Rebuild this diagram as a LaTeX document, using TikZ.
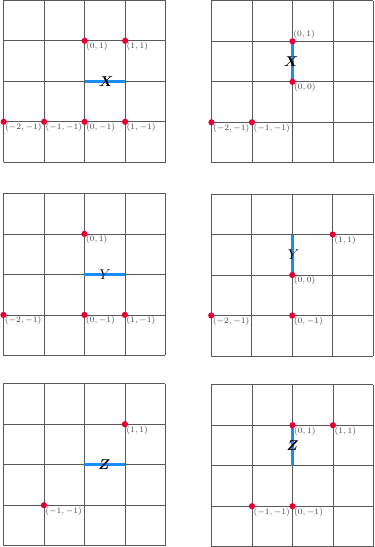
\documentclass[tikz,border=0pt]{standalone}
\usepackage{bm}
\definecolor{segblue}{RGB}{25,140,245}
\definecolor{dotred}{RGB}{228,0,55}
\begin{document}
\begin{tikzpicture}[
  gridline/.style={draw=black!65, line width=0.5pt},
  seg/.style={draw=segblue, line width=2.1pt},
  dot/.style={circle, fill=dotred, inner sep=0pt, minimum size=4.4pt},
  lab/.style={font=\scriptsize, text=black!75, inner sep=0.2pt, scale=0.84, transform shape},
  lbr/.style={label={[lab,anchor=north west,xshift=0.9pt,label distance=-1.9pt]-90:#1}},
  lar/.style={label={[lab,anchor=south west,xshift=0.4pt,label distance=-1.0pt]90:#1}},
  letter/.style={inner sep=0pt}
]
\useasboundingbox (0,0) rectangle (9.235,-13.506);

% ---------- Panel 1 ----------
\begin{scope}[shift={(2.091,-2.007)}]
  \draw[gridline] (-2,-2) grid (2,2);
  \coordinate (s1a) at (0,0); \coordinate (s1b) at (1,0);
  \draw[seg] (s1a) -- (s1b);
  \node[letter] (X1) at (0.53,0) {$\bm{X}$};
  \node[dot, lbr={$(0,1)$}] (p1a) at (0,1) {};
  \node[dot, lbr={$(1,1)$}] (p1b) at (1,1) {};
  \node[dot, lbr={$(-2,-1)$}] (p1c) at (-2,-1) {};
  \node[dot, lbr={$(-1,-1)$}] (p1d) at (-1,-1) {};
  \node[dot, lbr={$(0,-1)$}] (p1e) at (0,-1) {};
  \node[dot, lbr={$(1,-1)$}] (p1f) at (1,-1) {};
\end{scope}

% ---------- Panel 2 ----------
\begin{scope}[shift={(7.222,-2.020)}]
  \draw[gridline] (-2,-2) grid (2,2);
  \coordinate (s2a) at (0,0); \coordinate (s2b) at (0,1);
  \draw[seg] (s2a) -- (s2b);
  \node[letter] (X2) at (-0.03,0.5) {$\bm{X}$};
  \node[dot, lar={$(0,1)$}] (p2a) at (0,1) {};
  \node[dot, lbr={$(0,0)$}] (p2b) at (0,0) {};
  \node[dot, lbr={$(-2,-1)$}] (p2c) at (-2,-1) {};
  \node[dot, lbr={$(-1,-1)$}] (p2d) at (-1,-1) {};
\end{scope}

% ---------- Panel 3 ----------
\begin{scope}[shift={(2.085,-6.775)}]
  \draw[gridline] (-2,-2) grid (2,2);
  \coordinate (s3a) at (0,0); \coordinate (s3b) at (1,0);
  \draw[seg] (s3a) -- (s3b);
  \node[letter] (Y3) at (0.51,0) {$Y$};
  \node[dot, lbr={$(0,1)$}] (p3a) at (0,1) {};
  \node[dot, lbr={$(-2,-1)$}] (p3b) at (-2,-1) {};
  \node[dot, lbr={$(0,-1)$}] (p3c) at (0,-1) {};
  \node[dot, lbr={$(1,-1)$}] (p3d) at (1,-1) {};
\end{scope}

% ---------- Panel 4 ----------
\begin{scope}[shift={(7.217,-6.790)}]
  \draw[gridline] (-2,-2) grid (2,2);
  \coordinate (s4a) at (0,0); \coordinate (s4b) at (0,1);
  \draw[seg] (s4a) -- (s4b);
  \node[letter] (Y4) at (0.03,0.5) {$Y$};
  \node[dot, lbr={$(1,1)$}] (p4a) at (1,1) {};
  \node[dot, lbr={$(0,0)$}] (p4b) at (0,0) {};
  \node[dot, lbr={$(-2,-1)$}] (p4c) at (-2,-1) {};
  \node[dot, lbr={$(0,-1)$}] (p4d) at (0,-1) {};
\end{scope}

% ---------- Panel 5 ----------
\begin{scope}[shift={(2.085,-11.474)}]
  \draw[gridline] (-2,-2) grid (2,2);
  \coordinate (s5a) at (0,0); \coordinate (s5b) at (1,0);
  \draw[seg] (s5a) -- (s5b);
  \node[letter] (Z5) at (0.49,0) {$\bm{Z}$};
  \node[dot, lbr={$(1,1)$}] (p5a) at (1,1) {};
  \node[dot, lbr={$(-1,-1)$}] (p5b) at (-1,-1) {};
\end{scope}

% ---------- Panel 6 ----------
\begin{scope}[shift={(7.222,-11.499)}]
  \draw[gridline] (-2,-2) grid (2,2);
  \coordinate (s6a) at (0,0); \coordinate (s6b) at (0,1);
  \draw[seg] (s6a) -- (s6b);
  \node[letter] (Z6) at (0,0.5) {$\bm{Z}$};
  \node[dot, lbr={$(0,1)$}] (p6a) at (0,1) {};
  \node[dot, lbr={$(1,1)$}] (p6b) at (1,1) {};
  \node[dot, lbr={$(-1,-1)$}] (p6c) at (-1,-1) {};
  \node[dot, lbr={$(0,-1)$}] (p6d) at (0,-1) {};
\end{scope}
\end{tikzpicture}
\end{document}
